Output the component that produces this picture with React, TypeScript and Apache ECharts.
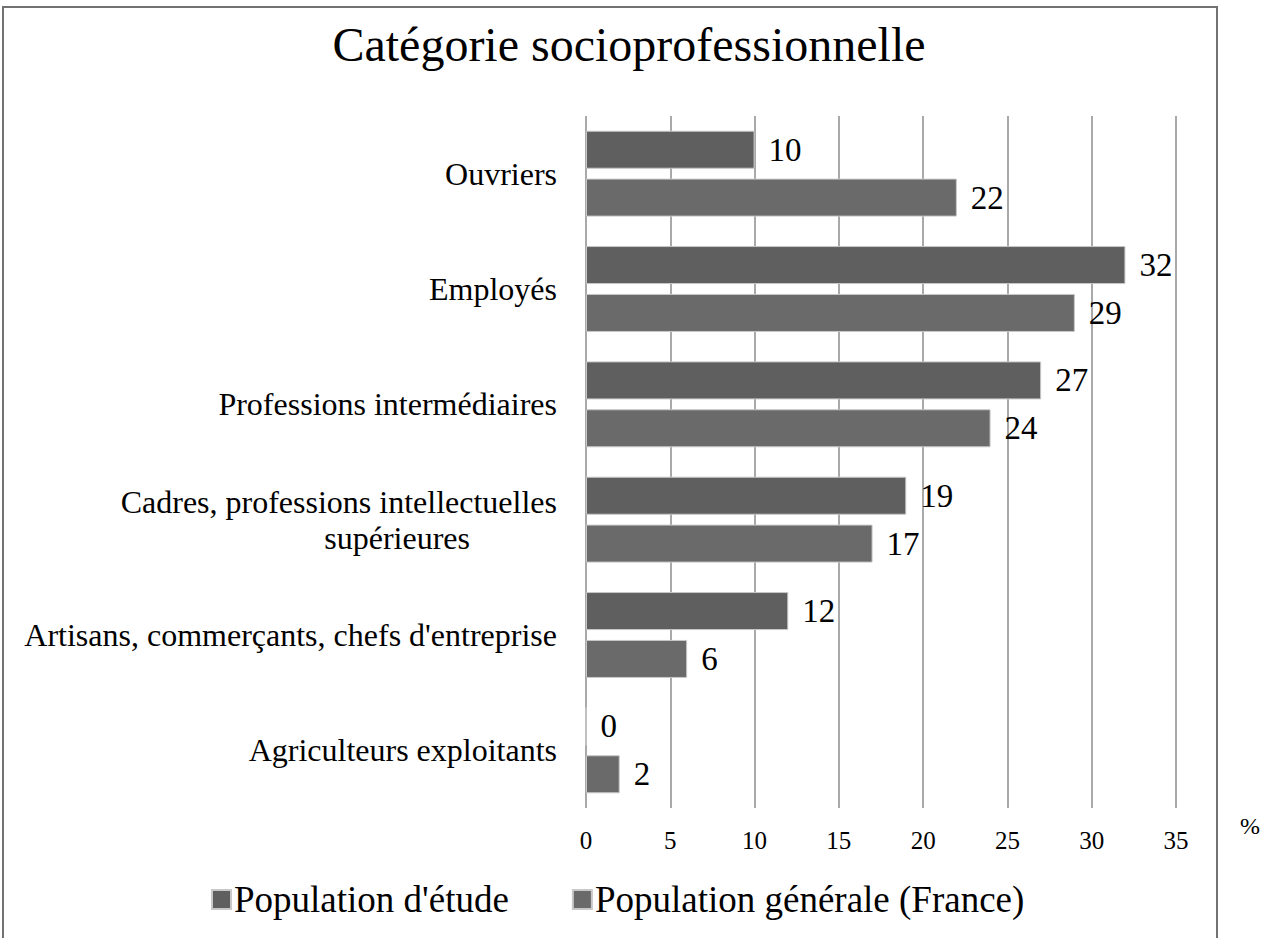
import React, { useEffect, useRef } from "react";
import * as echarts from "echarts";

const categories = [
  "Ouvriers",
  "Employés",
  "Professions intermédiaires",
  "Cadres, professions intellectuelles\nsupérieures",
  "Artisans, commerçants, chefs d'entreprise",
  "Agriculteurs exploitants",
];
const studyValues = [10, 32, 27, 19, 12, 0];
const generalValues = [22, 29, 24, 17, 6, 2];
const seriesNames = ["Population d'étude", "Population générale (France)"];
const xTicks = { min: 0, max: 35, interval: 5 };

const FONT = "'Liberation Serif', 'Times New Roman', serif";

export default function App() {
  const ref = useRef<HTMLDivElement>(null);
  useEffect(() => {
    if (!ref.current) return;
    const chart = echarts.init(ref.current, null, { renderer: "svg" });
    const labelStyle = {
      show: true,
      position: "right" as const,
      distance: 14,
      fontFamily: FONT,
      fontSize: 33,
      color: "#000",
    };
    chart.setOption({
      animation: false,
      backgroundColor: "#fff",
      textStyle: { fontFamily: FONT },
      title: {
        text: "Catégorie socioprofessionnelle",
        left: 624,
        textAlign: "center",
        top: 15,
        textStyle: { fontFamily: FONT, fontSize: 48, fontWeight: "normal", color: "#000" },
      },
      legend: {
        left: 206,
        top: 876,
        itemWidth: 19,
        itemHeight: 19,
        itemGap: 63,
        icon: "rect",
        textStyle: { fontFamily: FONT, fontSize: 37, color: "#000", padding: [0, 0, 0, -2] },
        data: seriesNames,
      },
      grid: { left: 586, right: 103, top: 116, bottom: 130 },
      xAxis: {
        type: "value",
        min: xTicks.min,
        max: xTicks.max,
        interval: xTicks.interval,
        axisLine: { show: false },
        axisTick: { show: false },
        splitLine: { show: true, lineStyle: { color: "#8c8c8c", width: 1.5 } },
        axisLabel: { fontFamily: FONT, fontSize: 25, color: "#000", margin: 20 },
      },
      yAxis: {
        type: "category",
        inverse: true,
        data: categories,
        axisLine: { show: false },
        axisTick: { show: false },
        axisLabel: {
          margin: 29,
          fontFamily: FONT,
          fontSize: 32,
          color: "#000",
          lineHeight: 36,
          formatter: (v: string) => {
            const parts = v.split("\n");
            if (parts.length === 1) return v;
            return `{a|${parts[0]}}\n{b|${parts[1]}}`;
          },
          rich: {
            a: { fontFamily: FONT, fontSize: 32, color: "#000", lineHeight: 36 },
            b: { fontFamily: FONT, fontSize: 32, color: "#000", lineHeight: 36, padding: [0, 87, 0, 0] },
          },
        },
      },
      series: [
        {
          name: seriesNames[0],
          type: "bar",
          data: studyValues,
          barWidth: 38,
          barGap: "26%",
          itemStyle: { color: "#5f5f5f", borderColor: "#c8c8c8", borderWidth: 1 },
          label: labelStyle,
        },
        {
          name: seriesNames[1],
          type: "bar",
          data: generalValues,
          barWidth: 38,
          barGap: "26%",
          itemStyle: { color: "#6a6a6a", borderColor: "#c8c8c8", borderWidth: 1 },
          label: labelStyle,
        },
      ],
      graphic: [
        {
          type: "rect",
          shape: { x: 3, y: 7, width: 1214, height: 960 },
          style: { fill: "none", stroke: "#727272", lineWidth: 2 },
          silent: true,
        },
        {
          type: "text",
          left: 1240,
          top: 814,
          style: { text: "%", fontFamily: FONT, fontSize: 24, fill: "#000" },
        },
      ],
    });
    return () => chart.dispose();
  }, []);
  return (
    <div
      ref={ref}
      style={{ position: "absolute", left: 0, top: 0, width: 1279, height: 938 }}
    />
  );
}
